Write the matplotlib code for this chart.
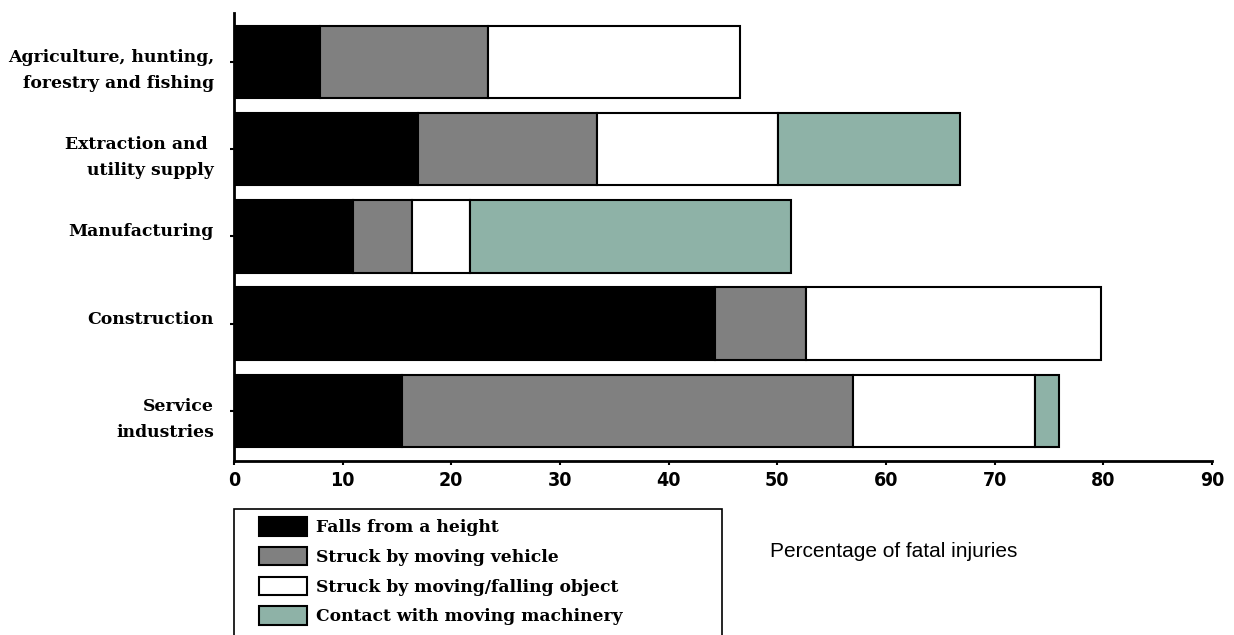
import matplotlib
matplotlib.use("Agg")
import matplotlib.pyplot as plt
from matplotlib.patches import Rectangle
import numpy as np

# Sectors, listed bottom to top
sectors = ['Service\nindustries', 'Construction', 'Manufacturing',
           'Extraction and \nutility supply', 'Agriculture, hunting,\nforestry and fishing']

causes = ['Falls from a height', 'Struck by moving vehicle',
          'Struck by moving/falling object', 'Contact with moving machinery']

falls = [15.5, 44.3, 11.0, 16.9, 7.9]
vehicle = [41.5, 8.3, 5.4, 16.5, 15.5]
falling_object = [16.7, 27.2, 5.3, 16.7, 23.2]
machinery = [2.2, 0.0, 29.6, 16.7, 0.0]

colors = ['#000000', '#808080', '#ffffff', '#8eb2a7']
xticks = [0, 10, 20, 30, 40, 50, 60, 70, 80, 90]

fig = plt.figure(figsize=(12.34, 6.35), dpi=100)
ax = fig.add_axes([0.1896, 0.274, 0.7925, 0.7055])

y = np.arange(len(sectors))
left = np.zeros(len(sectors))
handles = []
for vals, col, name in zip([falls, vehicle, falling_object, machinery], colors, causes):
    vals = np.array(vals)
    mask = vals > 0
    bars = ax.barh(y[mask], vals[mask], left=left[mask], height=0.83,
                   color=col, edgecolor='black', linewidth=1.5, label=name)
    handles.append(bars)
    left = left + vals

ax.set_xlim(0, 90)
ax.set_ylim(-0.575, 4.56)
ax.set_xticks(xticks)
ax.set_xticklabels([str(t) for t in xticks], fontfamily='DejaVu Sans', fontstretch='condensed',
                   fontweight='bold', fontsize=14)
ax.set_yticks(y)
ax.set_yticklabels([])
# sector names: first line sits just above its tick, extra lines hang below
for yi, name in zip(y, sectors):
    ax.annotate(name, xy=(0, yi), xycoords=('axes fraction', 'data'),
                xytext=(-20, 13), textcoords='offset pixels', ha='right', va='top',
                multialignment='right', linespacing=1.7, fontfamily='DejaVu Serif',
                fontweight='bold', fontsize=12.4)

ax.tick_params(axis='y', direction='out', length=3, width=1.5)
ax.tick_params(axis='x', direction='out', length=3, width=1.5, pad=4)
for s in ['top', 'right']:
    ax.spines[s].set_visible(False)
for s in ['left', 'bottom']:
    ax.spines[s].set_linewidth(2)
    ax.spines[s].set_color('black')

fig.text(0.624, 0.132, 'Percentage of fatal injuries', fontfamily='Liberation Sans',
         fontsize=15, ha='left', va='center')

# legend box running off the bottom edge
fig.patches.append(Rectangle((234 / 1234, -0.05), (722 - 234) / 1234, 0.05 + (635 - 509) / 635,
                             transform=fig.transFigure, fill=False, edgecolor='black',
                             linewidth=1.2))
leg = fig.legend(handles=handles, labels=causes, loc='upper left',
                 bbox_to_anchor=(259 / 1234, 1 - 517 / 635), frameon=False,
                 prop={'family': 'DejaVu Serif', 'weight': 'bold', 'size': 12.3},
                 handlelength=2.8, handleheight=1.3, labelspacing=0.63, handletextpad=0.55,
                 borderpad=0, borderaxespad=0)

fig.savefig('out.png', dpi=100)
